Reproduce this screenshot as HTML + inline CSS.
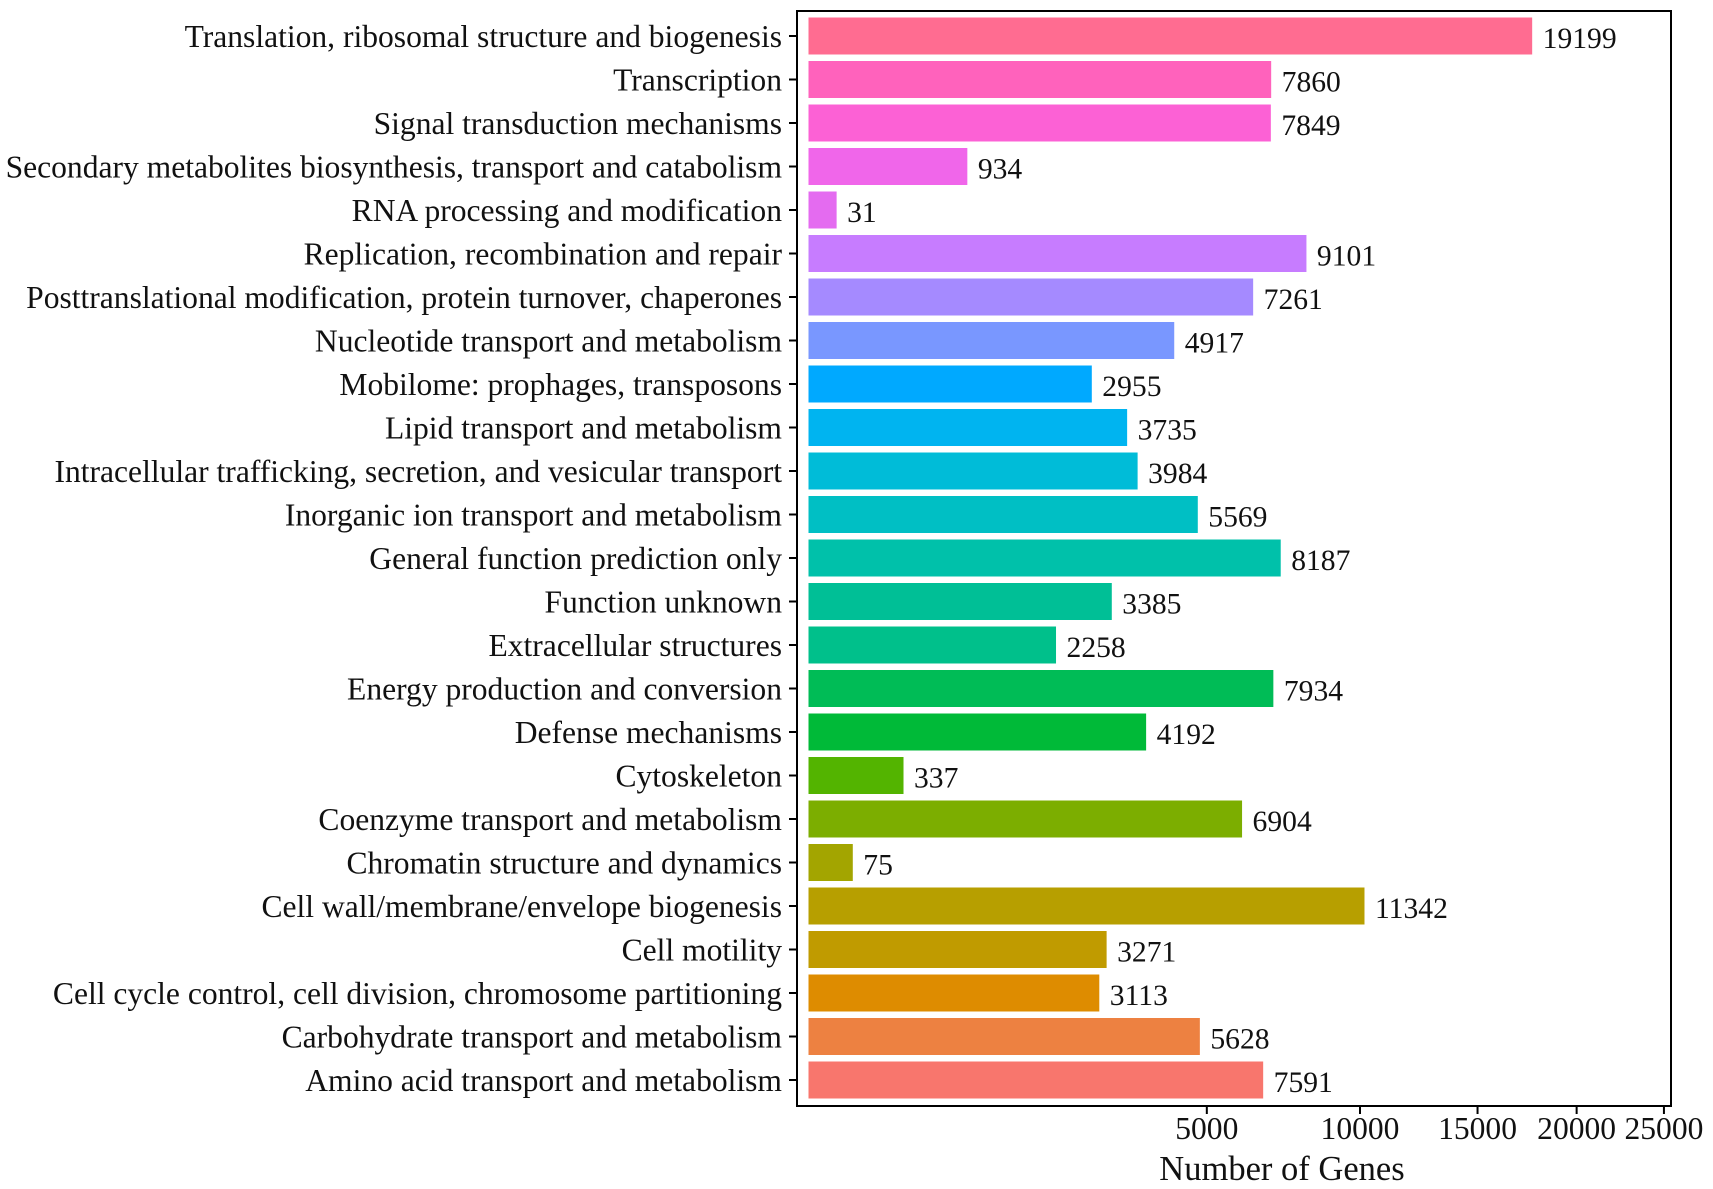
<!DOCTYPE html>
<html><head><meta charset="utf-8"><style>
html,body{margin:0;padding:0;background:#fff;}
svg{display:block;font-family:"Liberation Serif","Times New Roman",serif;}
</style></head><body>
<svg id="chart" width="1713" height="1189" viewBox="0 0 1713 1189" xmlns="http://www.w3.org/2000/svg"></svg>
<script>
const categories = ["Translation, ribosomal structure and biogenesis","Transcription","Signal transduction mechanisms","Secondary metabolites biosynthesis, transport and catabolism","RNA processing and modification","Replication, recombination and repair","Posttranslational modification, protein turnover, chaperones","Nucleotide transport and metabolism","Mobilome: prophages, transposons","Lipid transport and metabolism","Intracellular trafficking, secretion, and vesicular transport","Inorganic ion transport and metabolism","General function prediction only","Function unknown","Extracellular structures","Energy production and conversion","Defense mechanisms","Cytoskeleton","Coenzyme transport and metabolism","Chromatin structure and dynamics","Cell wall/membrane/envelope biogenesis","Cell motility","Cell cycle control, cell division, chromosome partitioning","Carbohydrate transport and metabolism","Amino acid transport and metabolism"];
const geneCounts = [19199,7860,7849,934,31,9101,7261,4917,2955,3735,3984,5569,8187,3385,2258,7934,4192,337,6904,75,11342,3271,3113,5628,7591];
const barColors = ["#FF6C91","#FF62BC","#FC61D5","#F066EA","#E46BF0","#C77CFF","#A58AFF","#7997FF","#00A9FF","#00B4F0","#00BCD8","#00BFC4","#00C1AA","#00BF96","#00C08B","#00BC56","#00BA38","#53B400","#7CAE00","#A3A500","#B79F00","#C09B00","#DE8C00","#ED8141","#F8766D"];
const tickValues = [5000,10000,15000,20000,25000];
const tickLabels = ["5000","10000","15000","20000","25000"];

const NS="http://www.w3.org/2000/svg";
const svg=document.getElementById('chart');
function mk(tag,attrs,parent){const e=document.createElementNS(NS,tag);for(const k in attrs)e.setAttribute(k,attrs[k]);(parent||svg).appendChild(e);return e;}
const x0=808, K=5.23;
function xScale(v){return x0+K*Math.sqrt(v);}
function xTick(v){return x0+29+K*Math.sqrt(v);}
const yTop=36, step=43.5, barH=38;
function yScale(i){return yTop+i*step;}

const frame=mk('rect',{x:797,y:11,width:874,height:1095,fill:'none',stroke:'#000','stroke-width':2});



const labels=[];
categories.forEach((c,i)=>{
  const y=yScale(i);
  const bar=mk('rect',{x:x0,y:y-barH/2,width:xScale(geneCounts[i])-x0,height:barH,fill:barColors[i],stroke:'#fff','stroke-width':1});
  
  
  const tk=mk('line',{x1:789,x2:797,y1:y,y2:y,stroke:'#000','stroke-width':2});
  
  
  const t=mk('text',{x:782,y:y+11,'text-anchor':'end','font-size':32,fill:'#111'});
  t.textContent=c;
  
  
  labels.push(t);
  const vl=mk('text',{x:xScale(geneCounts[i])+10,y:y+12,'font-size':30,fill:'#111'});
  vl.textContent=String(geneCounts[i]);
  
  
  labels.push(vl);
});
const longest=labels[6];
const w=longest.getComputedTextLength();
const sc=Math.min(1,777/w);
labels.forEach(t=>{const x=+t.getAttribute('x');t.setAttribute('transform',`translate(${x},0) scale(${sc},1) translate(${-x},0)`);});

tickValues.forEach((v,i)=>{
  const x=xTick(v);
  const l=mk('line',{x1:x,x2:x,y1:1106,y2:1114,stroke:'#000','stroke-width':2});
  
  
  const t=mk('text',{x:x,y:1139,'text-anchor':'middle','font-size':32,fill:'#111',transform:`translate(${x},0) scale(${sc},1) translate(${-x},0)`});
  t.textContent=tickLabels[i];
  
  
});
const xt=mk('text',{x:1282,y:1180,'text-anchor':'middle','font-size':35,fill:'#111',transform:`translate(1282,0) scale(${sc},1) translate(-1282,0)`});
xt.textContent='Number of Genes';


</script>
</body></html>
